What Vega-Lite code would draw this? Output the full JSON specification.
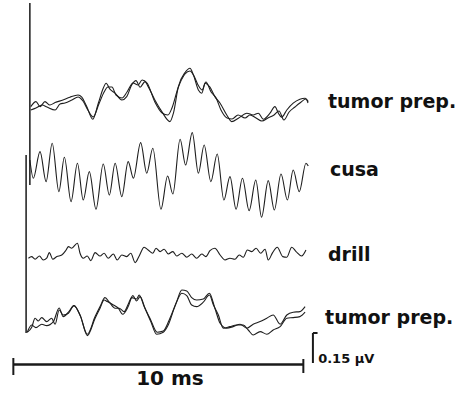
{
  "$schema": "https://vega.github.io/schema/vega-lite/v6.json",
  "width": 460,
  "height": 395,
  "autosize": {"type": "fit", "contains": "padding"},
  "padding": 0,
  "background": "white",
  "config": {"view": {"stroke": null}},
  "datasets": {
    "traces": [
      {"s":"top_a","t":1.06,"v":1.442},{"s":"top_a","t":1.24,"v":1.467},{"s":"top_a","t":1.38,"v":1.442},{"s":"top_a","t":1.55,"v":1.467},{"s":"top_a","t":1.72,"v":1.45},{"s":"top_a","t":1.90,"v":1.462},{"s":"top_a","t":2.17,"v":1.475},{"s":"top_a","t":2.41,"v":1.489},{"s":"top_a","t":2.69,"v":1.5},{"s":"top_a","t":2.82,"v":1.489},{"s":"top_a","t":2.99,"v":1.442},{"s":"top_a","t":3.20,"v":1.379},{"s":"top_a","t":3.39,"v":1.459},{"s":"top_a","t":3.56,"v":1.534},{"s":"top_a","t":3.66,"v":1.559},{"s":"top_a","t":3.79,"v":1.529},{"s":"top_a","t":3.97,"v":1.509},{"s":"top_a","t":4.20,"v":1.475},{"s":"top_a","t":4.37,"v":1.492},{"s":"top_a","t":4.54,"v":1.55},{"s":"top_a","t":4.69,"v":1.572},{"s":"top_a","t":4.83,"v":1.539},{"s":"top_a","t":5.00,"v":1.567},{"s":"top_a","t":5.11,"v":1.542},{"s":"top_a","t":5.34,"v":1.475},{"s":"top_a","t":5.58,"v":1.417},{"s":"top_a","t":5.86,"v":1.367},{"s":"top_a","t":5.98,"v":1.409},{"s":"top_a","t":6.15,"v":1.542},{"s":"top_a","t":6.38,"v":1.612},{"s":"top_a","t":6.55,"v":1.634},{"s":"top_a","t":6.67,"v":1.6},{"s":"top_a","t":6.84,"v":1.525},{"s":"top_a","t":6.96,"v":1.509},{"s":"top_a","t":7.07,"v":1.559},{"s":"top_a","t":7.24,"v":1.539},{"s":"top_a","t":7.41,"v":1.492},{"s":"top_a","t":7.59,"v":1.459},{"s":"top_a","t":7.82,"v":1.4},{"s":"top_a","t":7.99,"v":1.367},{"s":"top_a","t":8.22,"v":1.384},{"s":"top_a","t":8.51,"v":1.409},{"s":"top_a","t":8.73,"v":1.4},{"s":"top_a","t":8.91,"v":1.409},{"s":"top_a","t":9.08,"v":1.379},{"s":"top_a","t":9.31,"v":1.409},{"s":"top_a","t":9.48,"v":1.442},{"s":"top_a","t":9.60,"v":1.409},{"s":"top_a","t":9.71,"v":1.389},{"s":"top_a","t":9.89,"v":1.425},{"s":"top_a","t":10.11,"v":1.459},{"s":"top_a","t":10.34,"v":1.479},{"s":"top_a","t":10.52,"v":1.484},{"s":"top_a","t":10.63,"v":1.467},
      {"s":"top_b","t":1.06,"v":1.425},{"s":"top_b","t":1.24,"v":1.435},{"s":"top_b","t":1.45,"v":1.45},{"s":"top_b","t":1.62,"v":1.44},{"s":"top_b","t":1.90,"v":1.425},{"s":"top_b","t":2.07,"v":1.455},{"s":"top_b","t":2.24,"v":1.46},{"s":"top_b","t":2.48,"v":1.475},{"s":"top_b","t":2.69,"v":1.49},{"s":"top_b","t":2.86,"v":1.47},{"s":"top_b","t":3.03,"v":1.425},{"s":"top_b","t":3.21,"v":1.39},{"s":"top_b","t":3.41,"v":1.455},{"s":"top_b","t":3.59,"v":1.515},{"s":"top_b","t":3.72,"v":1.54},{"s":"top_b","t":3.86,"v":1.54},{"s":"top_b","t":4.00,"v":1.5},{"s":"top_b","t":4.21,"v":1.485},{"s":"top_b","t":4.38,"v":1.515},{"s":"top_b","t":4.59,"v":1.56},{"s":"top_b","t":4.76,"v":1.55},{"s":"top_b","t":4.90,"v":1.575},{"s":"top_b","t":5.07,"v":1.56},{"s":"top_b","t":5.34,"v":1.465},{"s":"top_b","t":5.59,"v":1.41},{"s":"top_b","t":5.79,"v":1.4},{"s":"top_b","t":5.93,"v":1.435},{"s":"top_b","t":6.14,"v":1.535},{"s":"top_b","t":6.38,"v":1.605},{"s":"top_b","t":6.55,"v":1.62},{"s":"top_b","t":6.69,"v":1.595},{"s":"top_b","t":6.83,"v":1.55},{"s":"top_b","t":6.97,"v":1.525},{"s":"top_b","t":7.10,"v":1.565},{"s":"top_b","t":7.28,"v":1.515},{"s":"top_b","t":7.45,"v":1.485},{"s":"top_b","t":7.62,"v":1.425},{"s":"top_b","t":7.83,"v":1.385},{"s":"top_b","t":8.00,"v":1.38},{"s":"top_b","t":8.21,"v":1.4},{"s":"top_b","t":8.45,"v":1.385},{"s":"top_b","t":8.62,"v":1.4},{"s":"top_b","t":8.83,"v":1.385},{"s":"top_b","t":9.03,"v":1.37},{"s":"top_b","t":9.24,"v":1.385},{"s":"top_b","t":9.45,"v":1.4},{"s":"top_b","t":9.62,"v":1.42},{"s":"top_b","t":9.79,"v":1.375},{"s":"top_b","t":9.97,"v":1.415},{"s":"top_b","t":10.17,"v":1.44},{"s":"top_b","t":10.34,"v":1.46},{"s":"top_b","t":10.55,"v":1.48},{"s":"top_b","t":10.62,"v":1.46},
      {"s":"cusa","t":1.03,"v":1.175},{"s":"cusa","t":1.15,"v":1.084},{"s":"cusa","t":1.38,"v":1.217},{"s":"cusa","t":1.59,"v":1.067},{"s":"cusa","t":1.80,"v":1.259},{"s":"cusa","t":2.03,"v":1.017},{"s":"cusa","t":2.22,"v":1.189},{"s":"cusa","t":2.45,"v":0.967},{"s":"cusa","t":2.67,"v":1.159},{"s":"cusa","t":2.87,"v":0.975},{"s":"cusa","t":3.08,"v":1.117},{"s":"cusa","t":3.31,"v":0.929},{"s":"cusa","t":3.56,"v":1.155},{"s":"cusa","t":3.77,"v":1.0},{"s":"cusa","t":3.97,"v":1.159},{"s":"cusa","t":4.20,"v":0.992},{"s":"cusa","t":4.42,"v":1.167},{"s":"cusa","t":4.60,"v":1.084},{"s":"cusa","t":4.85,"v":1.262},{"s":"cusa","t":5.06,"v":1.109},{"s":"cusa","t":5.27,"v":1.234},{"s":"cusa","t":5.55,"v":0.929},{"s":"cusa","t":5.78,"v":1.095},{"s":"cusa","t":5.96,"v":1.005},{"s":"cusa","t":6.21,"v":1.279},{"s":"cusa","t":6.40,"v":1.15},{"s":"cusa","t":6.63,"v":1.312},{"s":"cusa","t":6.84,"v":1.109},{"s":"cusa","t":7.04,"v":1.25},{"s":"cusa","t":7.27,"v":1.067},{"s":"cusa","t":7.49,"v":1.205},{"s":"cusa","t":7.72,"v":0.975},{"s":"cusa","t":7.93,"v":1.092},{"s":"cusa","t":8.14,"v":0.929},{"s":"cusa","t":8.36,"v":1.084},{"s":"cusa","t":8.59,"v":0.922},{"s":"cusa","t":8.82,"v":1.075},{"s":"cusa","t":9.02,"v":0.889},{"s":"cusa","t":9.25,"v":1.072},{"s":"cusa","t":9.46,"v":0.925},{"s":"cusa","t":9.69,"v":1.105},{"s":"cusa","t":9.91,"v":0.975},{"s":"cusa","t":10.11,"v":1.125},{"s":"cusa","t":10.32,"v":1.017},{"s":"cusa","t":10.55,"v":1.159},{"s":"cusa","t":10.63,"v":1.145},
      {"s":"drill","t":0.98,"v":0.684},{"s":"drill","t":1.09,"v":0.692},{"s":"drill","t":1.21,"v":0.679},{"s":"drill","t":1.36,"v":0.695},{"s":"drill","t":1.49,"v":0.675},{"s":"drill","t":1.61,"v":0.684},{"s":"drill","t":1.70,"v":0.712},{"s":"drill","t":1.82,"v":0.679},{"s":"drill","t":1.96,"v":0.692},{"s":"drill","t":2.13,"v":0.7},{"s":"drill","t":2.28,"v":0.725},{"s":"drill","t":2.36,"v":0.742},{"s":"drill","t":2.47,"v":0.734},{"s":"drill","t":2.67,"v":0.759},{"s":"drill","t":2.76,"v":0.709},{"s":"drill","t":2.87,"v":0.684},{"s":"drill","t":3.01,"v":0.695},{"s":"drill","t":3.13,"v":0.672},{"s":"drill","t":3.28,"v":0.712},{"s":"drill","t":3.45,"v":0.695},{"s":"drill","t":3.59,"v":0.709},{"s":"drill","t":3.73,"v":0.684},{"s":"drill","t":3.91,"v":0.705},{"s":"drill","t":4.04,"v":0.675},{"s":"drill","t":4.20,"v":0.7},{"s":"drill","t":4.37,"v":0.692},{"s":"drill","t":4.51,"v":0.709},{"s":"drill","t":4.66,"v":0.662},{"s":"drill","t":4.80,"v":0.695},{"s":"drill","t":4.97,"v":0.739},{"s":"drill","t":5.11,"v":0.725},{"s":"drill","t":5.27,"v":0.709},{"s":"drill","t":5.38,"v":0.734},{"s":"drill","t":5.52,"v":0.717},{"s":"drill","t":5.66,"v":0.729},{"s":"drill","t":5.80,"v":0.705},{"s":"drill","t":5.96,"v":0.717},{"s":"drill","t":6.09,"v":0.695},{"s":"drill","t":6.27,"v":0.709},{"s":"drill","t":6.44,"v":0.689},{"s":"drill","t":6.61,"v":0.705},{"s":"drill","t":6.78,"v":0.684},{"s":"drill","t":6.96,"v":0.705},{"s":"drill","t":7.10,"v":0.692},{"s":"drill","t":7.24,"v":0.722},{"s":"drill","t":7.41,"v":0.734},{"s":"drill","t":7.59,"v":0.7},{"s":"drill","t":7.76,"v":0.675},{"s":"drill","t":7.93,"v":0.684},{"s":"drill","t":8.10,"v":0.679},{"s":"drill","t":8.25,"v":0.7},{"s":"drill","t":8.39,"v":0.689},{"s":"drill","t":8.53,"v":0.725},{"s":"drill","t":8.68,"v":0.717},{"s":"drill","t":8.83,"v":0.734},{"s":"drill","t":8.99,"v":0.709},{"s":"drill","t":9.14,"v":0.729},{"s":"drill","t":9.25,"v":0.675},{"s":"drill","t":9.40,"v":0.712},{"s":"drill","t":9.56,"v":0.739},{"s":"drill","t":9.75,"v":0.692},{"s":"drill","t":9.89,"v":0.689},{"s":"drill","t":10.06,"v":0.739},{"s":"drill","t":10.21,"v":0.717},{"s":"drill","t":10.40,"v":0.695},{"s":"drill","t":10.55,"v":0.725},
      {"s":"bot_a","t":0.94,"v":0.314},{"s":"bot_a","t":1.09,"v":0.337},{"s":"bot_a","t":1.21,"v":0.384},{"s":"bot_a","t":1.32,"v":0.37},{"s":"bot_a","t":1.44,"v":0.387},{"s":"bot_a","t":1.61,"v":0.367},{"s":"bot_a","t":1.78,"v":0.384},{"s":"bot_a","t":1.90,"v":0.354},{"s":"bot_a","t":2.04,"v":0.425},{"s":"bot_a","t":2.18,"v":0.4},{"s":"bot_a","t":2.36,"v":0.409},{"s":"bot_a","t":2.55,"v":0.447},{"s":"bot_a","t":2.76,"v":0.4},{"s":"bot_a","t":3.01,"v":0.304},{"s":"bot_a","t":3.28,"v":0.392},{"s":"bot_a","t":3.45,"v":0.442},{"s":"bot_a","t":3.62,"v":0.487},{"s":"bot_a","t":3.77,"v":0.464},{"s":"bot_a","t":3.97,"v":0.434},{"s":"bot_a","t":4.11,"v":0.434},{"s":"bot_a","t":4.28,"v":0.417},{"s":"bot_a","t":4.42,"v":0.454},{"s":"bot_a","t":4.54,"v":0.487},{"s":"bot_a","t":4.71,"v":0.48},{"s":"bot_a","t":4.80,"v":0.5},{"s":"bot_a","t":4.97,"v":0.442},{"s":"bot_a","t":5.17,"v":0.384},{"s":"bot_a","t":5.42,"v":0.314},{"s":"bot_a","t":5.63,"v":0.32},{"s":"bot_a","t":5.86,"v":0.384},{"s":"bot_a","t":6.09,"v":0.467},{"s":"bot_a","t":6.27,"v":0.525},{"s":"bot_a","t":6.44,"v":0.52},{"s":"bot_a","t":6.61,"v":0.487},{"s":"bot_a","t":6.78,"v":0.475},{"s":"bot_a","t":7.01,"v":0.48},{"s":"bot_a","t":7.22,"v":0.509},{"s":"bot_a","t":7.41,"v":0.434},{"s":"bot_a","t":7.59,"v":0.359},{"s":"bot_a","t":7.82,"v":0.334},{"s":"bot_a","t":8.04,"v":0.342},{"s":"bot_a","t":8.28,"v":0.354},{"s":"bot_a","t":8.51,"v":0.334},{"s":"bot_a","t":8.73,"v":0.354},{"s":"bot_a","t":8.97,"v":0.367},{"s":"bot_a","t":9.20,"v":0.384},{"s":"bot_a","t":9.42,"v":0.4},{"s":"bot_a","t":9.66,"v":0.354},{"s":"bot_a","t":9.89,"v":0.4},{"s":"bot_a","t":10.11,"v":0.414},{"s":"bot_a","t":10.34,"v":0.417},{"s":"bot_a","t":10.52,"v":0.442},
      {"s":"bot_b","t":0.94,"v":0.314},{"s":"bot_b","t":1.09,"v":0.35},{"s":"bot_b","t":1.24,"v":0.337},{"s":"bot_b","t":1.44,"v":0.354},{"s":"bot_b","t":1.61,"v":0.347},{"s":"bot_b","t":1.84,"v":0.367},{"s":"bot_b","t":2.04,"v":0.435},{"s":"bot_b","t":2.18,"v":0.392},{"s":"bot_b","t":2.36,"v":0.414},{"s":"bot_b","t":2.55,"v":0.447},{"s":"bot_b","t":2.78,"v":0.392},{"s":"bot_b","t":3.01,"v":0.297},{"s":"bot_b","t":3.28,"v":0.384},{"s":"bot_b","t":3.45,"v":0.434},{"s":"bot_b","t":3.59,"v":0.475},{"s":"bot_b","t":3.70,"v":0.467},{"s":"bot_b","t":3.91,"v":0.45},{"s":"bot_b","t":4.08,"v":0.434},{"s":"bot_b","t":4.23,"v":0.404},{"s":"bot_b","t":4.42,"v":0.442},{"s":"bot_b","t":4.58,"v":0.497},{"s":"bot_b","t":4.71,"v":0.47},{"s":"bot_b","t":4.83,"v":0.492},{"s":"bot_b","t":5.00,"v":0.434},{"s":"bot_b","t":5.20,"v":0.367},{"s":"bot_b","t":5.40,"v":0.304},{"s":"bot_b","t":5.63,"v":0.314},{"s":"bot_b","t":5.80,"v":0.35},{"s":"bot_b","t":6.03,"v":0.442},{"s":"bot_b","t":6.27,"v":0.509},{"s":"bot_b","t":6.44,"v":0.497},{"s":"bot_b","t":6.61,"v":0.45},{"s":"bot_b","t":6.78,"v":0.442},{"s":"bot_b","t":7.01,"v":0.464},{"s":"bot_b","t":7.22,"v":0.5},{"s":"bot_b","t":7.36,"v":0.45},{"s":"bot_b","t":7.53,"v":0.4},{"s":"bot_b","t":7.70,"v":0.334},{"s":"bot_b","t":7.93,"v":0.342},{"s":"bot_b","t":8.16,"v":0.35},{"s":"bot_b","t":8.39,"v":0.35},{"s":"bot_b","t":8.56,"v":0.325},{"s":"bot_b","t":8.73,"v":0.3},{"s":"bot_b","t":8.97,"v":0.317},{"s":"bot_b","t":9.20,"v":0.304},{"s":"bot_b","t":9.42,"v":0.325},{"s":"bot_b","t":9.66,"v":0.342},{"s":"bot_b","t":9.89,"v":0.384},{"s":"bot_b","t":10.11,"v":0.387},{"s":"bot_b","t":10.34,"v":0.392},{"s":"bot_b","t":10.52,"v":0.414}
    ],
    "rules": [
      {"part":"left axis upper","t":1.03,"t2":1.03,"v":1.96,"v2":1.05,"w":1.5},
      {"part":"left axis lower","t":0.9,"t2":0.9,"v":1.2,"v2":0.31,"w":1.5},
      {"part":"time bar","t":0.46,"t2":10.46,"v":0.153,"v2":0.153,"w":2.5},
      {"part":"time bar start","t":0.46,"t2":0.46,"v":0.185,"v2":0.1,"w":2},
      {"part":"time bar end","t":10.46,"t2":10.46,"v":0.18,"v2":0.11,"w":2},
      {"part":"amp bar","t":10.79,"t2":10.79,"v":0.31,"v2":0.16,"w":2},
      {"part":"amp bar top","t":10.79,"t2":10.95,"v":0.31,"v2":0.31,"w":2}
    ],
    "labels": [
      {"label":"tumor prep.","t":11.31,"v":1.435},
      {"label":"cusa","t":11.38,"v":1.095},
      {"label":"drill","t":11.31,"v":0.67},
      {"label":"tumor prep.","t":11.21,"v":0.355}
    ],
    "scalebar_labels": [
      {"label":"10 ms","t":5.86,"v":0.05}
    ],
    "amp_labels": [
      {"label":"0.15 µV","t":10.97,"v":0.16}
    ]
  },
  "encoding": {
    "x": {"field": "t", "type": "quantitative", "scale": {"domain": [0, 15.862], "nice": false, "zero": false}, "axis": null},
    "y": {"field": "v", "type": "quantitative", "scale": {"domain": [0, 1.975], "nice": false, "zero": false}, "axis": null}
  },
  "layer": [
    {
      "data": {"name": "traces"},
      "mark": {"type": "line", "interpolate": "monotone", "color": "#1e1e1e", "strokeWidth": 1.1},
      "encoding": {"detail": {"field": "s", "type": "nominal"}}
    },
    {
      "data": {"name": "rules"},
      "mark": {"type": "rule", "color": "#1a1a1a"},
      "encoding": {
        "x2": {"field": "t2"},
        "y2": {"field": "v2"},
        "strokeWidth": {"field": "w", "type": "quantitative", "scale": null}
      }
    },
    {
      "data": {"name": "labels"},
      "mark": {"type": "text", "font": "DejaVu Sans", "fontWeight": "bold", "fontSize": 19, "color": "#111", "align": "left", "baseline": "alphabetic"},
      "encoding": {"text": {"field": "label"}}
    },
    {
      "data": {"name": "scalebar_labels"},
      "mark": {"type": "text", "font": "DejaVu Sans", "fontWeight": "bold", "fontSize": 20, "color": "#111", "align": "center", "baseline": "alphabetic"},
      "encoding": {"text": {"field": "label"}}
    },
    {
      "data": {"name": "amp_labels"},
      "mark": {"type": "text", "font": "DejaVu Sans", "fontWeight": "bold", "fontSize": 13, "color": "#111", "align": "left", "baseline": "alphabetic"},
      "encoding": {"text": {"field": "label"}}
    }
  ]
}
